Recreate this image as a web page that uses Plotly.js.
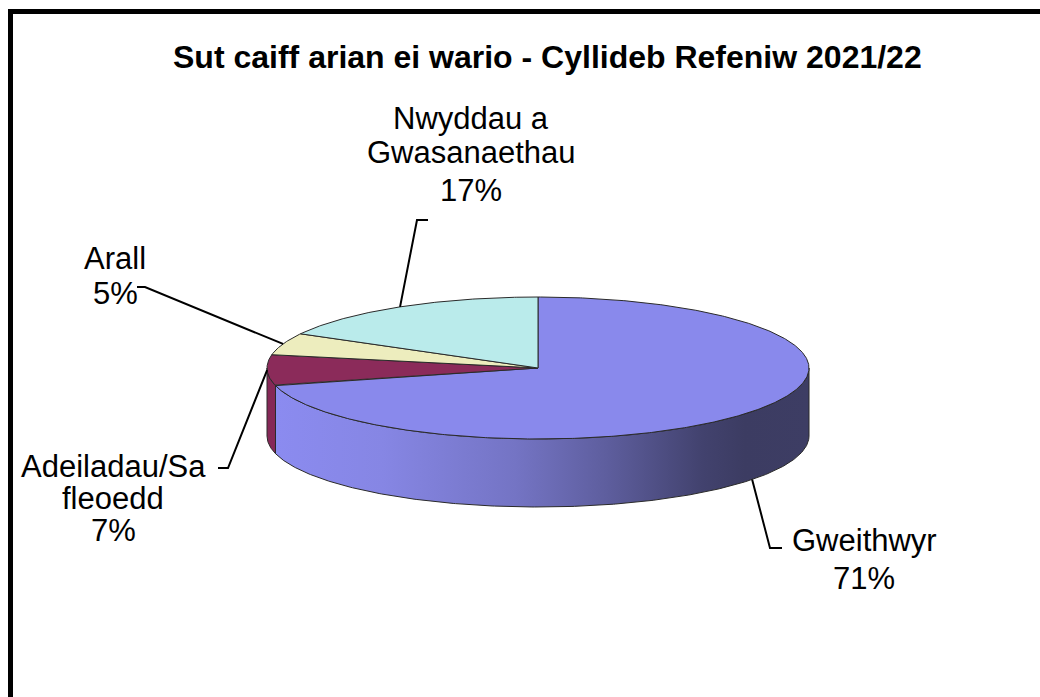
<!DOCTYPE html>
<html>
<head>
<meta charset="utf-8">
<script src="https://cdn.plot.ly/plotly-3.0.1.min.js"></script>
<style>html,body{margin:0;padding:0;background:#fff;}#chart{width:1040px;height:697px;}</style>
</head>
<body>
<div id="chart"></div>
<script>
// ---- data ----
const chartTitle = 'Sut caiff arian ei wario - Cyllideb Refeniw 2021/22';
const categories = ['Gweithwyr', 'Adeiladau/Safleoedd', 'Arall', 'Nwyddau a Gwasanaethau'];
const values = [71, 7, 5, 17];
const labelLines = [['Gweithwyr'], ['Adeiladau/Sa', 'fleoedd'], ['Arall'], ['Nwyddau a', 'Gwasanaethau']];
const topColors = ['#8989EC', '#8B2B5A', '#EDEDBE', '#BAEBEB'];
const wallColors = ['#8989EC', '#852857', '#DADAAA', '#A8D8D8'];

// ---- geometry / style (pixel-like axis units) ----
const P = {cx: 538, cy: 368, rx: 271, ry: 71, depth: 68};
const labelStyle = [
  {x: 864, ys: [540], pctY: 578, depthFrac: 1, leader: [[770, 548], [782, 548]]},
  {x: 113, ys: [466, 498], pctY: 530, depthFrac: 0, leader: [[228, 468], [218, 468]]},
  {x: 115, ys: [258], pctY: 293, depthFrac: 0, leader: [[145, 287], [137, 287]]},
  {x: 471, ys: [118, 152], pctY: 190, depthFrac: 0, leader: [[417, 220], [428, 220]]}
];
const FONT = '"Liberation Sans", Arial, sans-serif';

function pt(deg, dz) {
  const r = deg * Math.PI / 180;
  return [P.cx + P.rx * Math.sin(r), P.cy - P.ry * Math.cos(r) + dz];
}
function arc(a, b, dz) {
  const n = Math.max(2, Math.ceil(Math.abs(b - a) / 0.5));
  const out = [];
  for (let i = 0; i <= n; i++) out.push(pt(a + (b - a) * i / n, dz));
  return out;
}
function xy(points) {
  return {x: points.map(p => p[0]), y: points.map(p => p[1])};
}

const total = values.reduce((s, v) => s + v, 0);
const slices = [];
let cum = 0;
values.forEach((v, i) => {
  const s = cum / total * 360, e = (cum + v) / total * 360;
  slices.push({s, e, mid: (s + e) / 2});
  cum += v;
});

const traces = [];
// side walls (front half only: 90..270 deg)
slices.forEach((sl, i) => {
  const a = Math.max(sl.s, 90), b = Math.min(sl.e, 270);
  if (a >= b) return;
  const pts = arc(a, b, 0).concat(arc(b, a, P.depth));
  pts.push(pts[0]);
  const d = xy(pts);
  const t = {
    type: 'scatter', mode: 'lines', x: d.x, y: d.y, fill: 'toself',
    line: {color: '#2a2a2a', width: 1}, hoverinfo: 'skip', showlegend: false,
    fillcolor: wallColors[i]
  };
  if (i === 0) {
    t.fillgradient = {
      type: 'horizontal',
      colorscale: [[0, '#8B8BF0'], [0.2, '#8686E4'], [0.45, '#7474C4'], [0.62, '#5E5E9E'],
                   [0.8, '#42426E'], [0.88, '#3C3C62'], [1, '#3D3D64']]
    };
  }
  traces.push(t);
});
// top faces
slices.forEach((sl, i) => {
  const pts = [[P.cx, P.cy]].concat(arc(sl.s, sl.e, 0));
  pts.push([P.cx, P.cy]);
  const d = xy(pts);
  traces.push({
    type: 'scatter', mode: 'lines', x: d.x, y: d.y, fill: 'toself',
    fillcolor: topColors[i], line: {color: '#2a2a2a', width: 1},
    hoverinfo: 'skip', showlegend: false, name: categories[i]
  });
});
// leader lines
slices.forEach((sl, i) => {
  const st = labelStyle[i];
  const p0 = pt(sl.mid, P.depth * st.depthFrac);
  const pts = [p0].concat(st.leader);
  const d = xy(pts);
  traces.push({
    type: 'scatter', mode: 'lines', x: d.x, y: d.y,
    line: {color: '#000', width: 2}, hoverinfo: 'skip', showlegend: false
  });
});

// labels
const annotations = [];
slices.forEach((sl, i) => {
  const st = labelStyle[i];
  const pct = Math.round(values[i] / total * 100) + '%';
  const lines = labelLines[i].concat([pct]);
  const ys = st.ys.concat([st.pctY]);
  lines.forEach((txt, j) => {
    annotations.push({
      x: st.x, y: ys[j], xref: 'x', yref: 'y', text: txt, showarrow: false,
      xanchor: 'center', yanchor: 'middle',
      font: {family: FONT, size: 31, color: '#000'}
    });
  });
});
annotations.push({
  x: 547, y: 57, xref: 'x', yref: 'y', text: '<b>' + chartTitle + '</b>', showarrow: false,
  xanchor: 'center', yanchor: 'middle', font: {family: FONT, size: 32, color: '#000'}
});

const layout = {
  width: 1040, height: 697, autosize: false,
  margin: {l: 0, r: 0, t: 0, b: 0, pad: 0},
  paper_bgcolor: '#fff', plot_bgcolor: '#fff',
  xaxis: {range: [0, 1040], visible: false, fixedrange: true},
  yaxis: {range: [697, 0], visible: false, fixedrange: true},
  showlegend: false,
  annotations: annotations,
  shapes: [{type: 'rect', xref: 'x', yref: 'y', x0: 10.5, y0: 11.5, x1: 1060, y1: 720,
            line: {color: '#000', width: 5}, fillcolor: 'rgba(0,0,0,0)', layer: 'above'}]
};
Plotly.newPlot('chart', traces, layout, {staticPlot: true, displayModeBar: false});
</script>
</body>
</html>
